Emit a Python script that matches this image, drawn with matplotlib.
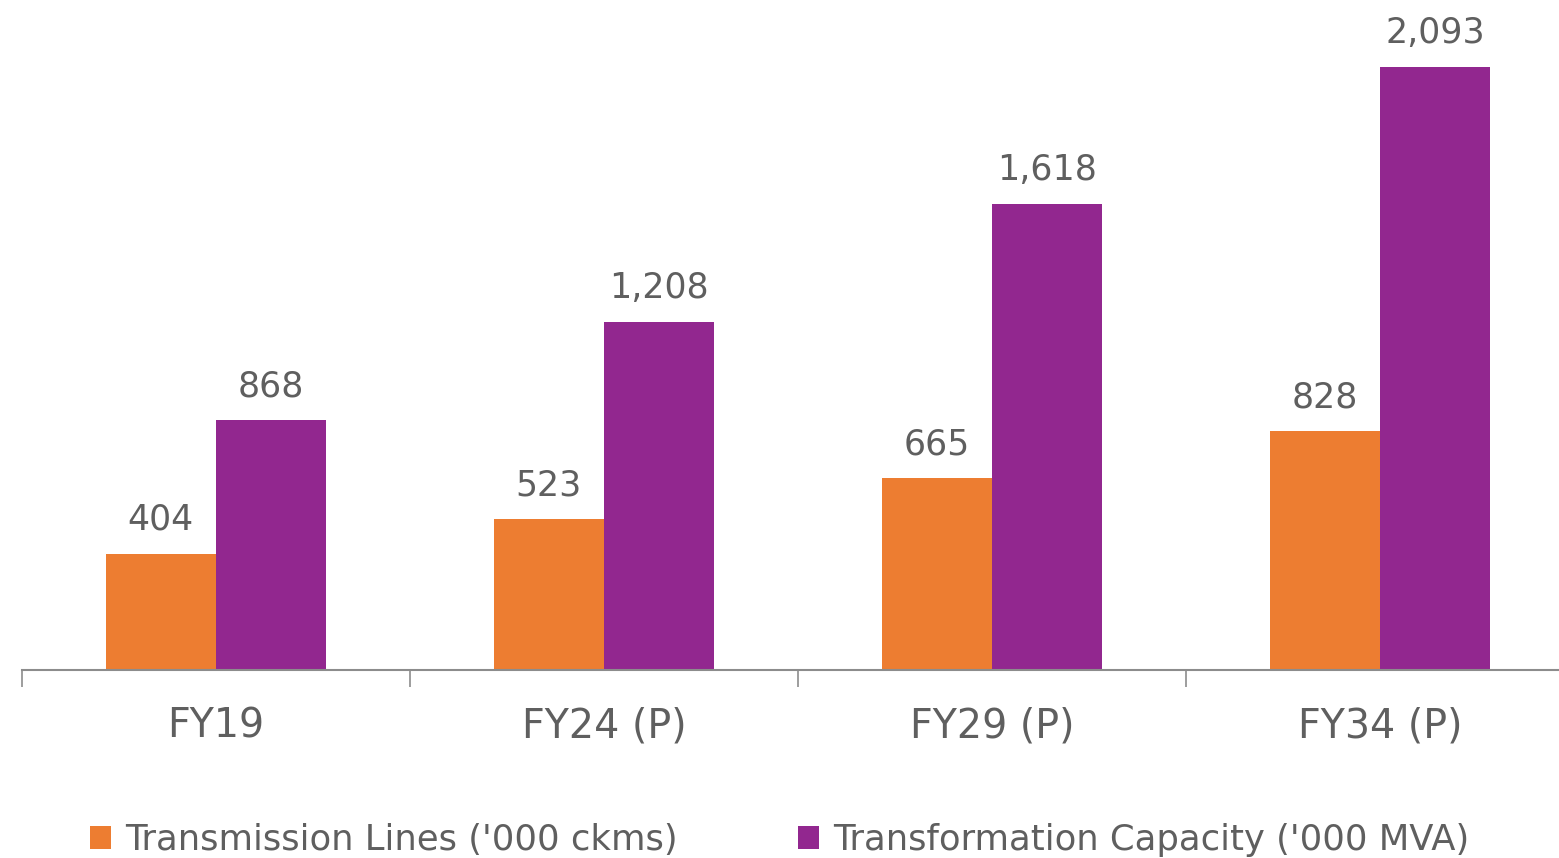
import numpy as np
import matplotlib.pyplot as plt

categories = ["FY19", "FY24 (P)", "FY29 (P)", "FY34 (P)"]
lines_vals = [404, 523, 665, 828]
capacity_vals = [868, 1208, 1618, 2093]
series_names = ["Transmission Lines ('000 ckms)", "Transformation Capacity ('000 MVA)"]

orange = "#ED7D31"
purple = "#92278F"
grey = "#5F5F5F"

plt.rcParams['font.family'] = ['DejaVu Sans']

fig = plt.figure(figsize=(15.59, 8.58), dpi=100)
# axis spans past the right edge, like the cropped original
ax = fig.add_axes([22/1559, 1-670/858, 4*388/1559, 670/858])

x = np.arange(len(categories))
w = 0.284
b1 = ax.bar(x - w/2, lines_vals, w, color=orange, label=series_names[0])
b2 = ax.bar(x + w/2, capacity_vals, w, color=purple, label=series_names[1])

ax.bar_label(b1, labels=[f"{v:,}" for v in lines_vals], padding=12, fontsize=25, color=grey)
ax.bar_label(b2, labels=[f"{v:,}" for v in capacity_vals], padding=12, fontsize=25, color=grey)

ax.set_xlim(-0.5, 3.5)
ax.set_ylim(0, 2093*670/603)
for s in ["top", "right", "left"]:
    ax.spines[s].set_visible(False)
ax.spines["bottom"].set_color("#8C8C8C")
ax.spines["bottom"].set_linewidth(1.5)
ax.set_yticks([])

ax.set_xticks(np.arange(0, 4) - 0.5, minor=False)
ax.set_xticklabels([])
ax.tick_params(axis="x", which="major", length=12, width=1.2, color="#8C8C8C")
ax.set_xticks(x, minor=True)
ax.set_xticklabels(categories, minor=True, fontsize=28.5, color=grey)
ax.tick_params(axis="x", which="minor", length=0, pad=26)

fig.legend(loc="center left", bbox_to_anchor=(72/1559, 1-840/858), ncol=2, frameon=False,
           borderpad=0, fontsize=25.5, labelcolor=grey, handlelength=0.6, handleheight=0.6,
           handletextpad=0.4, columnspacing=3.4)

fig.savefig("out.png", dpi=100)
